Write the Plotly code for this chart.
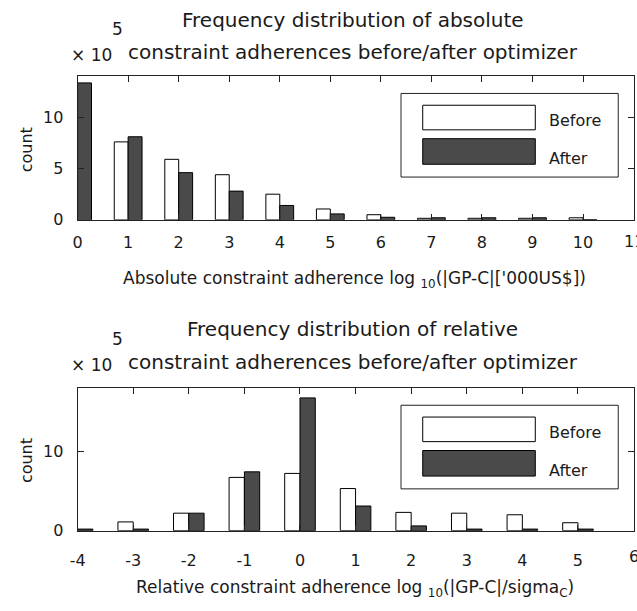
import plotly.graph_objects as go

W, H = 637, 611

# ---- data (counts in units of 10^5) ----
abs_bins = [0, 1, 2, 3, 4, 5, 6, 7, 8, 9, 10]
abs_before = [0, 7.6, 5.9, 4.4, 2.5, 1.06, 0.5, 0.15, 0.15, 0.15, 0.2]
abs_after = [13.35, 8.1, 4.6, 2.8, 1.4, 0.58, 0.25, 0.2, 0.2, 0.2, 0.0]

rel_bins = [-4, -3, -2, -1, 0, 1, 2, 3, 4, 5]
rel_before = [0, 1.1, 2.2, 6.7, 7.2, 5.3, 2.3, 2.2, 2.0, 1.0]
rel_after = [0.2, 0.2, 2.2, 7.4, 16.7, 3.1, 0.6, 0.2, 0.2, 0.2]

abs_xticks = list(range(0, 12))
abs_xticklabels = [str(v) for v in abs_xticks]
rel_xticks = list(range(-4, 7))
rel_xticklabels = [str(v) for v in rel_xticks]
abs_yticks = [0, 5, 10]
rel_yticks = [0, 10]

series_names = ["Before", "After"]
FONT = "DejaVu Sans"
TXT = "#1a1a1a"
DARK = "#4a4a4a"


def px_x(p):
    return p / W


def px_y(p):
    return 1 - p / H


fig = go.Figure()

fig.add_trace(go.Bar(x=abs_bins, y=abs_before, name=series_names[0], xaxis="x", yaxis="y",
                     marker=dict(color="white", line=dict(color="black", width=1)), showlegend=False))
fig.add_trace(go.Bar(x=abs_bins, y=abs_after, name=series_names[1], xaxis="x", yaxis="y",
                     marker=dict(color=DARK, line=dict(color="black", width=1)), showlegend=False))
fig.add_trace(go.Bar(x=rel_bins, y=rel_before, name=series_names[0], xaxis="x2", yaxis="y2",
                     marker=dict(color="white", line=dict(color="black", width=1)), showlegend=False))
fig.add_trace(go.Bar(x=rel_bins, y=rel_after, name=series_names[1], xaxis="x2", yaxis="y2",
                     marker=dict(color=DARK, line=dict(color="black", width=1)), showlegend=False))

axis_common = dict(showline=True, linecolor="#222", linewidth=1, mirror="ticks", ticks="inside",
                   ticklen=6, tickcolor="#222", showgrid=False, zeroline=False,
                   tickfont=dict(family=FONT, size=16, color=TXT))

xdom = [px_x(70.5), px_x(633.5)]
fig.update_layout(
    width=W, height=H, autosize=False,
    margin=dict(l=0, r=0, t=0, b=0),
    paper_bgcolor="white", plot_bgcolor="white",
    barmode="group", bargap=0.45, bargroupgap=0,
    xaxis=dict(domain=xdom, anchor="y", range=[0, 11], tickvals=abs_xticks, ticktext=abs_xticklabels,
               ticklabelstandoff=8, **axis_common),
    yaxis=dict(domain=[px_y(223.5), px_y(77.5)], anchor="x", range=[0, 14], tickvals=abs_yticks,
               ticklabelstandoff=10, **axis_common),
    xaxis2=dict(domain=xdom, anchor="y2", range=[-4, 6], tickvals=rel_xticks, ticktext=rel_xticklabels,
                ticklabelstandoff=15, **axis_common),
    yaxis2=dict(domain=[px_y(539.5), px_y(394)], anchor="x2", range=[0, 18], tickvals=rel_yticks,
                ticklabelstandoff=10, **axis_common),
)

ann = []
shapes = []


def text(x, y, s, size=16, xanchor="center", angle=0):
    ann.append(dict(x=px_x(x), y=px_y(y), xref="paper", yref="paper", text=s, showarrow=False,
                    xanchor=xanchor, yanchor="middle", textangle=angle,
                    font=dict(family=FONT, size=size, color=TXT)))


# titles
text(349, 20, "Frequency distribution of absolute", 20)
text(349, 53, "constraint adherences before/after optimizer", 20)
text(349, 334, "Frequency distribution of relative", 20)
text(349, 368, "constraint adherences before/after optimizer", 20)

# exponent labels
for yb, ys in [(56, 29), (371, 345)]:
    text(85, yb, "× 10", 17)
    text(111, ys, "5", 17)

# y titles
text(19, 152, "count", 16, angle=-90)
text(19, 468, "count", 16, angle=-90)

# x titles
text(351, 284, "Absolute constraint adherence log <sub>10</sub>(|GP-C|['000US$])", 17)
text(351, 598, "Relative constraint adherence log <sub>10</sub>(|GP-C|/sigma<sub>C</sub>)", 17)

# last tick labels at the right edge (cut off by the page edge, as in the reference)
ann.append(dict(x=abs_xticks[-1], y=0, xref="x", yref="y", text=abs_xticklabels[-1], showarrow=False,
                xanchor="center", yanchor="top", yshift=-10, font=dict(family=FONT, size=16, color=TXT)))
ann.append(dict(x=rel_xticks[-1], y=0, xref="x2", yref="y2", text=rel_xticklabels[-1], showarrow=False,
                xanchor="center", yanchor="top", yshift=-14, font=dict(family=FONT, size=16, color=TXT)))

# manual legends
for top in [95, 412]:
    shapes.append(dict(type="rect", xref="paper", yref="paper",
                       x0=px_x(398), x1=px_x(618), y0=px_y(top), y1=px_y(top + 85),
                       line=dict(color="#222", width=1), fillcolor="white", layer="above"))
    shapes.append(dict(type="rect", xref="paper", yref="paper",
                       x0=px_x(420), x1=px_x(534), y0=px_y(top + 12), y1=px_y(top + 37),
                       line=dict(color="black", width=1), fillcolor="white", layer="above"))
    shapes.append(dict(type="rect", xref="paper", yref="paper",
                       x0=px_x(420), x1=px_x(534), y0=px_y(top + 46), y1=px_y(top + 72),
                       line=dict(color="black", width=1), fillcolor=DARK, layer="above"))
    text(546, top + 28, series_names[0], 16, xanchor="left")
    text(546, top + 66, series_names[1], 16, xanchor="left")

fig.update_layout(annotations=ann, shapes=shapes)
fig.write_html("out.html")
